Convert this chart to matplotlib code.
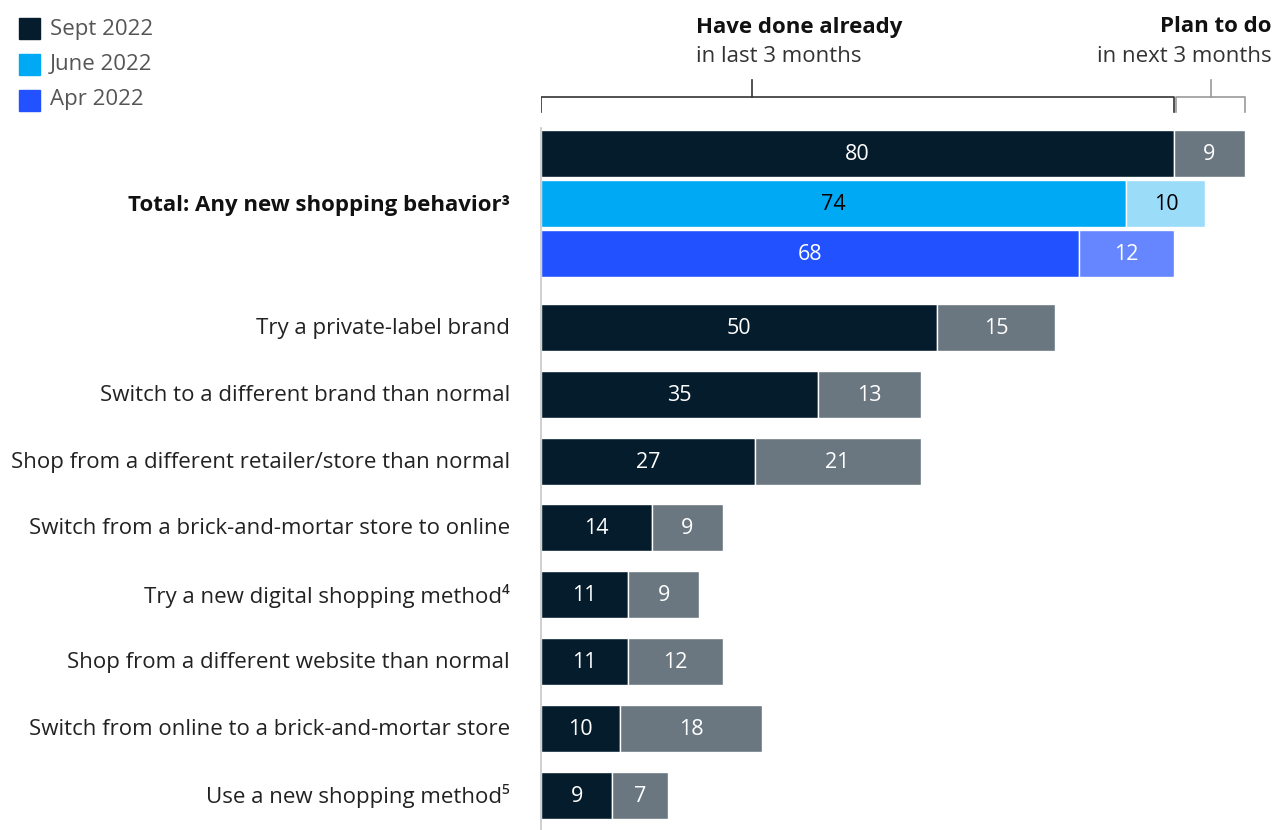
import matplotlib
matplotlib.use("Agg")
import matplotlib.pyplot as plt
from matplotlib.patches import Rectangle

plt.rcParams['font.family'] = ['Open Sans', 'DejaVu Sans']

# Total block: one row per survey wave
waves = ["Sept 2022", "June 2022", "Apr 2022"]
total_done = [80, 74, 68]
total_plan = [9, 10, 12]
wave_colors = ["#051c2c", "#00a9f4", "#2251ff"]
wave_plan_colors = ["#6b7780", "#9bdcf9", "#6686ff"]
wave_text_colors = ["white", "black", "white"]

# Individual behaviours (Sept 2022)
behaviors = [
    "Try a private-label brand",
    "Switch to a different brand than normal",
    "Shop from a different retailer/store than normal",
    "Switch from a brick-and-mortar store to online",
    "Try a new digital shopping method\u2074",
    "Shop from a different website than normal",
    "Switch from online to a brick-and-mortar store",
    "Use a new shopping method\u2075",
]
done = [50, 35, 27, 14, 11, 11, 10, 9]
plan = [15, 13, 21, 9, 9, 12, 18, 7]

W, H = 1276, 830
fig = plt.figure(figsize=(W / 100, H / 100), dpi=100)
x0 = 541
px_per_unit = 7.91
ax = fig.add_axes([x0 / W, 0, 1 - x0 / W, 1])
ax.set_xlim(0, (W - x0) / px_per_unit)
ax.set_ylim(H, 0)
ax.axis("off")

bar_h = 47
fs = 16
fs_num = 15.5

def draw_bar(y, d, p, c_done, c_plan, tc):
    ax.barh(y, d, height=bar_h, left=0, color=c_done, edgecolor="white", linewidth=1)
    ax.barh(y, p, height=bar_h, left=d, color=c_plan, edgecolor="white", linewidth=1)
    ax.text(d / 2, y + 1, str(d), ha="center", va="center", color=tc, fontsize=fs_num)
    ax.text(d + p / 2, y + 1, str(p), ha="center", va="center", color=tc, fontsize=fs_num)

# total group
total_y = [153.5, 203.5, 253]
for i in range(len(waves)):
    draw_bar(total_y[i], total_done[i], total_plan[i], wave_colors[i],
             wave_plan_colors[i], wave_text_colors[i])
fig.text(510 / W, 1 - 205 / H, "Total: Any new shopping behavior\u00b3", ha="right",
         va="center", fontsize=fs, fontweight="bold", color="#111111")

row_y0, row_step = 327.5, 66.8
for i, lab in enumerate(behaviors):
    y = row_y0 + i * row_step
    draw_bar(y, done[i], plan[i], wave_colors[0], wave_plan_colors[0], "white")
    fig.text(510 / W, 1 - (y + 1) / H, lab, ha="right", va="center", fontsize=fs, color="#222222")

# vertical baseline
ax.plot([0, 0], [128, 830], color="#c8c8c8", lw=1.2, clip_on=False)

# brackets over the Sept total bar
by, btick = 97, 112
ax.plot([0, 0, total_done[0], total_done[0]], [btick, by, by, btick], color="#333333", lw=1.2)
mid = 26.7
ax.plot([mid, mid], [by, 80], color="#333333", lw=1.2)
pe = total_done[0] + total_plan[0]
ax.plot([total_done[0] + 0.25, total_done[0] + 0.25, pe, pe], [btick, by, by, btick],
        color="#9a9a9a", lw=1.2)
ax.plot([(total_done[0] + pe) / 2 + 0.15] * 2, [by, 80], color="#9a9a9a", lw=1.2)

fig.text(696 / W, 1 - 27 / H, "Have done already", ha="left", va="center",
         fontsize=fs, fontweight="bold", color="#111111")
fig.text(696 / W, 1 - 57 / H, "in last 3 months", ha="left", va="center",
         fontsize=fs, color="#333333")
fig.text(1272 / W, 1 - 27 / H, "Plan to do", ha="right", va="center",
         fontsize=fs, fontweight="bold", color="#111111")
fig.text(1272 / W, 1 - 57 / H, "in next 3 months", ha="right", va="center",
         fontsize=fs, color="#333333")

# legend
for i, (lab, c) in enumerate(zip(waves, wave_colors)):
    yc = 29 + i * 35.5
    fig.patches.append(Rectangle((19 / W, 1 - (yc + 10.5) / H), 21 / W, 21 / H,
                                 transform=fig.transFigure, color=c, figure=fig))
    fig.text(50 / W, 1 - yc / H, lab, ha="left", va="center", fontsize=fs, color="#555555")

fig.savefig("out.png", dpi=100)
